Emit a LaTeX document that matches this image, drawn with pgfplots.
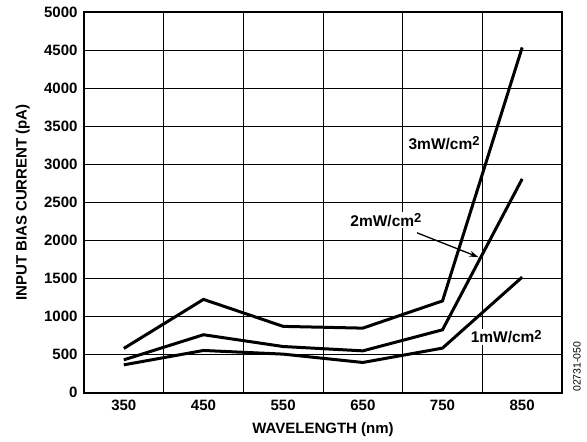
\documentclass[border=0pt]{standalone}
\usepackage{pgfplots}
\pgfplotsset{compat=1.18}
\usepackage{fontspec}
\setmainfont{Liberation Sans}
\usetikzlibrary{arrows.meta}
\newcommand{\sq}{\raisebox{0.45ex}{\fontsize{13bp}{14bp}\selectfont 2}}
\begin{document}
\begin{tikzpicture}
\begin{axis}[
  width=478bp, height=380bp, scale only axis,
  xmin=300, xmax=900, ymin=0, ymax=5000,
  xtick={350,450,...,850}, minor xtick={400,500,...,800},
  ytick={0,500,...,5000},
  xmajorgrids=false, xminorgrids=true, ymajorgrids=true,
  grid style={black, line width=1bp},
  minor grid style={black, line width=1bp},
  major tick length=0pt, minor tick length=0pt,
  axis line style={line width=2bp},
  tick label style={font=\bfseries\fontsize{15bp}{18bp}\selectfont},
  /pgf/number format/assume math mode=true,
  /pgf/number format/set thousands separator={},
  xticklabel style={yshift=-4bp},
  yticklabel style={xshift=-3bp},
  xlabel={WAVELENGTH (nm)},
  ylabel={INPUT BIAS CURRENT (pA)},
  label style={font=\bfseries\fontsize{15bp}{18bp}\selectfont},
  xlabel style={at={(axis description cs:0.5,-0.097)}, anchor=center},
  ylabel style={at={(axis description cs:-0.128,0.5)}, anchor=center},
  clip=false,
]
\node[fill=white, inner sep=1.5bp, font=\bfseries\fontsize{15.5bp}{18bp}\selectfont] at (axis cs:752,3285) {3mW/cm\sq};
\node[fill=white, inner sep=1.5bp, font=\bfseries\fontsize{15.5bp}{18bp}\selectfont] at (axis cs:679,2272) {2mW/cm\sq};
\node[fill=white, inner sep=1.5bp, font=\bfseries\fontsize{15.5bp}{18bp}\selectfont] at (axis cs:830,734) {1mW/cm\sq};
\addplot[black, line width=3bp] coordinates {(350,580) (450,1225) (550,870) (650,847) (750,1205) (850,4540)};
\addplot[black, line width=3bp] coordinates {(350,430) (450,760) (550,605) (650,548) (750,825) (850,2810)};
\addplot[black, line width=3bp] coordinates {(350,364) (450,553) (550,505) (650,395) (750,584) (850,1518)};
\draw[black, line width=1.3bp, -{Stealth[length=9bp,width=6bp]}] (axis cs:718,2101) -- (axis cs:795,1782);
\node[rotate=90, font=\fontsize{10.5bp}{12bp}\selectfont] at ([xshift=15bp]axis cs:900,340) {02731-050};
\end{axis}
\pgfresetboundingbox
\path[use as bounding box] ([xshift=-84bp,yshift=-49.3bp]current axis.south west) rectangle ([xshift=25bp,yshift=12.5bp]current axis.north east);
\end{tikzpicture}
\end{document}
